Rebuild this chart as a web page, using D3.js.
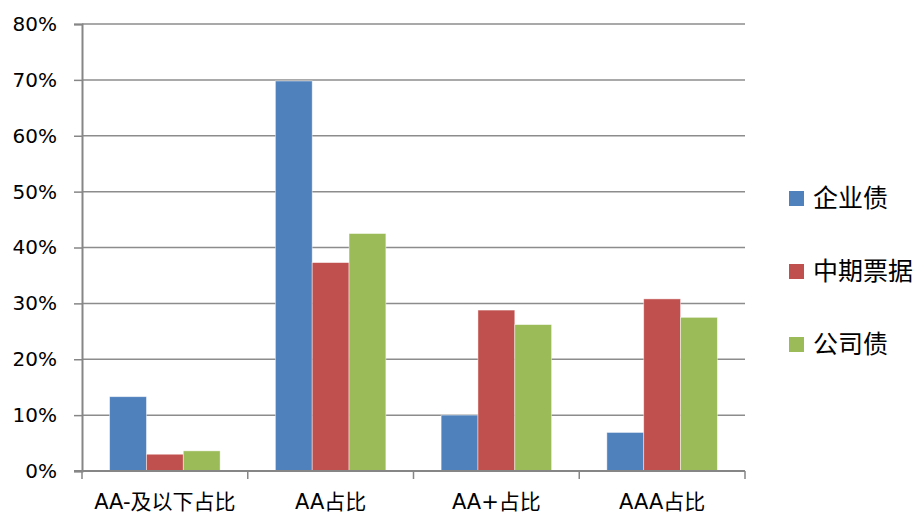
<!DOCTYPE html>
<html>
<head>
<meta charset="utf-8">
<script src="https://cdn.jsdelivr.net/npm/d3@7/dist/d3.min.js"></script>
<style>
  html, body { margin: 0; padding: 0; background: #fff; }
  svg { display: block; }
  text { font-family: "DejaVu Sans", "Noto Sans CJK SC", sans-serif; fill: #000; }
</style>
</head>
<body>
<svg id="chart" width="917" height="513"></svg>
<script>
// Rating shares by bond type
const categories = ["AA-及以下占比", "AA占比", "AA+占比", "AAA占比"];
const seriesNames = ["企业债", "中期票据", "公司债"];
const seriesColors = ["#4F81BD", "#C0504D", "#9BBB59"];
const enterpriseBonds = [0.133, 0.698, 0.100, 0.069];
const mediumTermNotes = [0.030, 0.373, 0.288, 0.308];
const corporateBonds = [0.036, 0.425, 0.262, 0.275];
const yTicks = [0, 0.1, 0.2, 0.3, 0.4, 0.5, 0.6, 0.7, 0.8];

const seriesValues = [enterpriseBonds, mediumTermNotes, corporateBonds];

const svg = d3.select("#chart");
const plot = { left: 82, right: 745, top: 24, bottom: 471 };

const x = d3.scaleBand().domain(categories).range([plot.left, plot.right]).paddingInner(0).paddingOuter(0);
const y = d3.scaleLinear().domain([0, 0.8]).range([plot.bottom, plot.top]);

// Bars: three bars per category, gap of 1.5 bar widths split around the group
const barW = x.bandwidth() / 4.5;
const inner = d3.scaleBand().domain(d3.range(seriesNames.length))
  .range([barW * 0.75, barW * 3.75]).padding(0);

// Gridlines
svg.append("g")
  .selectAll("line")
  .data(yTicks.filter(d => d > 0))
  .join("line")
  .attr("x1", plot.left).attr("x2", plot.right)
  .attr("y1", d => y(d)).attr("y2", d => y(d))
  .attr("stroke", "#8C8C8C").attr("stroke-width", 1.5);

// Bars
const groups = svg.append("g")
  .selectAll("g")
  .data(seriesValues)
  .join("g")
  .attr("fill", (d, i) => seriesColors[i]);

groups.each(function (vals, si) {
  d3.select(this).selectAll("rect")
    .data(vals.map((v, ci) => ({ v, c: categories[ci] })))
    .join("rect")
    .attr("x", d => x(d.c) + inner(si))
    .attr("width", inner.bandwidth())
    .attr("y", d => y(d.v))
    .attr("height", d => y(0) - y(d.v))
    .attr("stroke", "rgba(255,255,255,0.55)")
    .attr("stroke-width", 0.8);
});

// Y axis
const yAxis = d3.axisLeft(y).tickValues(yTicks).tickSize(8).tickPadding(17)
  .tickFormat(d3.format(".0%"));
const gy = svg.append("g").attr("transform", `translate(${plot.left},0)`).call(yAxis);
gy.select(".domain").attr("stroke", "#868686").attr("stroke-width", 2);
gy.selectAll(".tick line").attr("stroke", "#868686").attr("stroke-width", 1.5);
gy.selectAll(".tick text")
  .style("font-family", "'DejaVu Sans', sans-serif")
  .style("font-size", "20px").attr("fill", "#000");

// X axis with boundary ticks between categories
const gx = svg.append("g").attr("transform", `translate(0,${plot.bottom})`);
gx.append("line")
  .attr("x1", plot.left - 8).attr("x2", plot.right)
  .attr("stroke", "#868686").attr("stroke-width", 2);
const bounds = categories.map(c => x(c)).concat([plot.right]);
gx.selectAll("line.tk")
  .data(bounds)
  .join("line")
  .attr("class", "tk")
  .attr("x1", d => d).attr("x2", d => d)
  .attr("y1", 0).attr("y2", 8)
  .attr("stroke", "#868686").attr("stroke-width", 1.5);
gx.selectAll("text")
  .data(categories)
  .join("text")
  .attr("x", d => x(d) + x.bandwidth() / 2)
  .attr("y", 38)
  .attr("text-anchor", "middle")
  .style("font-size", "21px")
  .text(d => d);

// Legend
const legend = svg.append("g").attr("transform", "translate(789,0)");
const legendY = [198.5, 271.5, 344.5];
const items = legend.selectAll("g")
  .data(seriesNames)
  .join("g")
  .attr("transform", (d, i) => `translate(0,${legendY[i]})`);
items.append("rect")
  .attr("x", 0).attr("y", -7.5).attr("width", 15).attr("height", 15)
  .attr("fill", (d, i) => seriesColors[i]);
items.append("text")
  .attr("x", 24).attr("y", 0).attr("dy", "0.35em")
  .style("font-size", "25px")
  .text(d => d);
</script>
</body>
</html>
